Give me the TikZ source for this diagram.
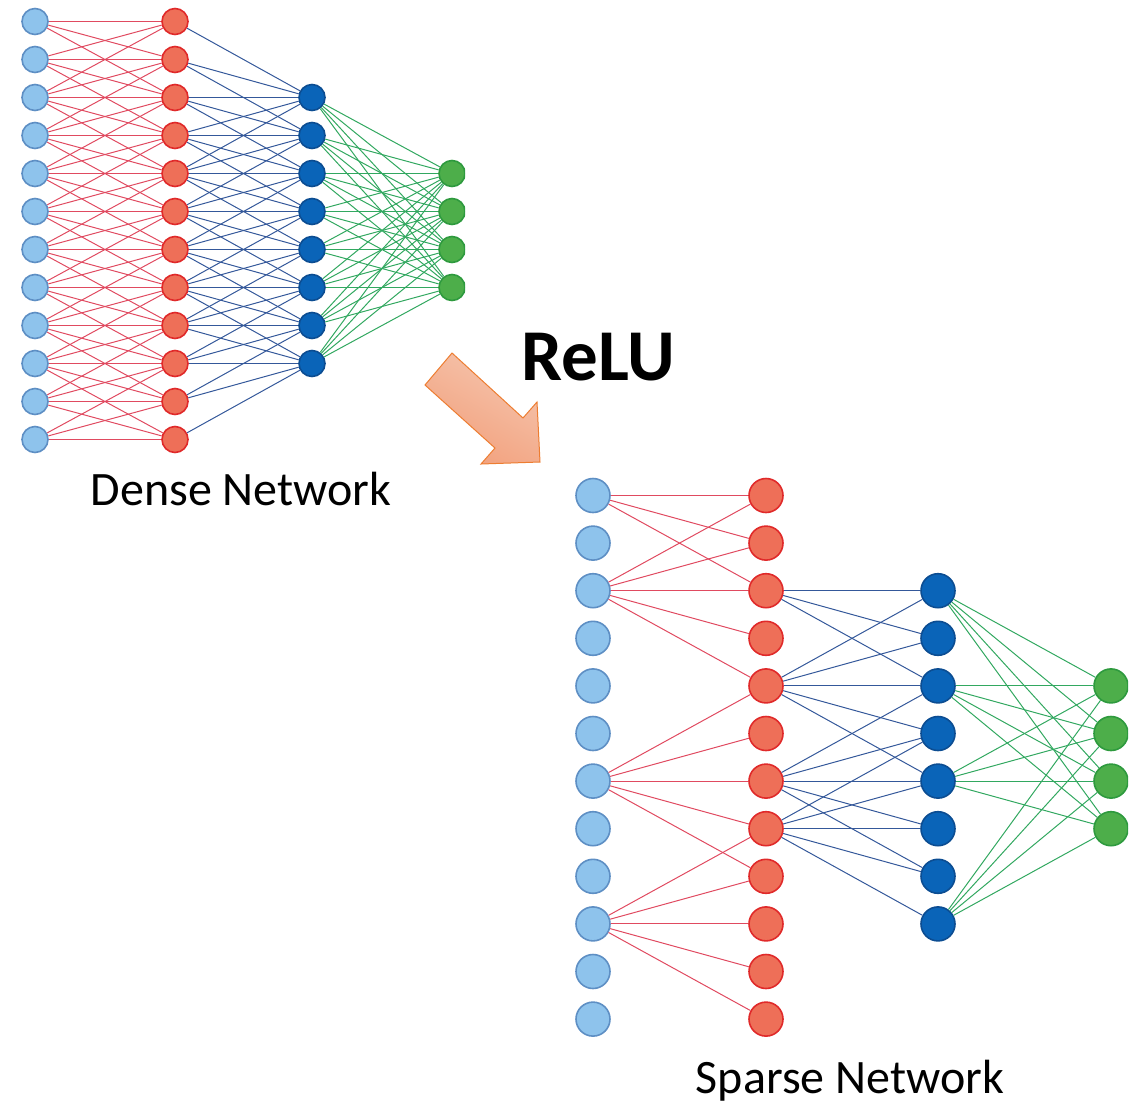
\documentclass[tikz,border=0pt]{standalone}
\usepackage{fontspec}
\setmainfont{Carlito}
\definecolor{inFill}{HTML}{8EC3EC}
\definecolor{inDraw}{HTML}{5E8FC4}
\definecolor{hAFill}{HTML}{EE6F58}
\definecolor{hADraw}{HTML}{E02A2A}
\definecolor{hBFill}{HTML}{0A64B8}
\definecolor{hBDraw}{HTML}{0C4D92}
\definecolor{outFill}{HTML}{4DAE4A}
\definecolor{outDraw}{HTML}{2E9A3E}
\definecolor{redLine}{HTML}{E04A60}
\definecolor{blueLine}{HTML}{34589A}
\definecolor{greenLine}{HTML}{32A860}
\definecolor{arrowA}{HTML}{F5C5AE}
\definecolor{arrowB}{HTML}{F2A07C}
\definecolor{arrowD}{HTML}{ED7D31}
\begin{document}
\begin{tikzpicture}[x=1pt,y=-1pt,
  neuron/.style={circle,inner sep=0pt,line width=1.6pt},
  dsize/.style={minimum size=26pt},
  ssize/.style={minimum size=34pt},
  inN/.style={neuron,fill=inFill,draw=inDraw},
  hAN/.style={neuron,fill=hAFill,draw=hADraw},
  hBN/.style={neuron,fill=hBFill,draw=hBDraw},
  outN/.style={neuron,fill=outFill,draw=outDraw},
  rl/.style={draw=redLine,line width=1pt},
  bl/.style={draw=blueLine,line width=1pt},
  gl/.style={draw=greenLine,line width=1pt},
  lbl/.style={font=\fontsize{48}{56}\selectfont,anchor=base,inner sep=0pt},
  relutxt/.style={font=\fontsize{73}{80}\selectfont\bfseries,anchor=base,inner sep=0pt}
]
\useasboundingbox (0,0) rectangle (1143,1104);

% ---------------- Dense network ----------------
\foreach \i in {1,...,12}{
  \pgfmathsetmacro\yy{21.5+38*(\i-1)}
  \node[inN,dsize] (d1-\i) at (35,\yy) {};
  \node[hAN,dsize] (d2-\i) at (175,\yy) {};
}
\foreach \i in {3,...,10}{
  \pgfmathsetmacro\yy{21.5+38*(\i-1)}
  \node[hBN,dsize] (d3-\i) at (312,\yy) {};
}
\begin{scope}
  \clip (400,0) rectangle (465,480);
  \foreach \i in {5,...,8}{
    \pgfmathsetmacro\yy{21.5+38*(\i-1)}
    \node[outN,dsize] (d4-\i) at (452,\yy) {};
  }
\end{scope}
\foreach \i in {1,...,12}{
  \pgfmathtruncatemacro\lo{max(1,\i-2)}
  \pgfmathtruncatemacro\hi{min(12,\i+2)}
  \foreach \j in {\lo,...,\hi}{ \draw[rl] (d1-\i) -- (d2-\j); }
  \pgfmathtruncatemacro\lob{max(3,\i-2)}
  \pgfmathtruncatemacro\hib{min(10,\i+2)}
  \ifnum\lob>\hib\else
    \foreach \j in {\lob,...,\hib}{ \draw[bl] (d2-\i) -- (d3-\j); }
  \fi
}
\foreach \i in {3,...,10}{
  \foreach \j in {5,...,8}{ \draw[gl] (d3-\i) -- (d4-\j); }
}

% ---------------- Sparse network ----------------
\foreach \i in {1,...,12}{
  \pgfmathsetmacro\yy{495.5+47.6*(\i-1)}
  \node[inN,ssize] (s1-\i) at (593,\yy) {};
  \node[hAN,ssize] (s2-\i) at (766,\yy) {};
}
\foreach \i in {3,...,10}{
  \pgfmathsetmacro\yy{495.5+47.6*(\i-1)}
  \node[hBN,ssize] (s3-\i) at (938,\yy) {};
}
\begin{scope}
  \clip (1050,600) rectangle (1128,900);
  \foreach \i in {5,...,8}{
    \pgfmathsetmacro\yy{495.5+47.6*(\i-1)}
    \node[outN,ssize] (s4-\i) at (1111,\yy) {};
  }
\end{scope}
\foreach \i in {1,3,7,10}{
  \pgfmathtruncatemacro\lo{max(1,\i-2)}
  \pgfmathtruncatemacro\hi{min(12,\i+2)}
  \foreach \j in {\lo,...,\hi}{ \draw[rl] (s1-\i) -- (s2-\j); }
}
\foreach \i in {3,5,7,8}{
  \pgfmathtruncatemacro\lo{max(3,\i-2)}
  \pgfmathtruncatemacro\hi{min(10,\i+2)}
  \foreach \j in {\lo,...,\hi}{ \draw[bl] (s2-\i) -- (s3-\j); }
}
\foreach \i in {3,5,7,10}{
  \foreach \j in {5,...,8}{ \draw[gl] (s3-\i) -- (s4-\j); }
}

% ---------------- Labels ----------------
\node[lbl] (denselabel) at (241,505) {Dense Network};
\node[lbl] (sparselabel) at (850,1093) {Sparse Network};
\node[relutxt] (relu) at (598,380) {ReLU};

% ---------------- Arrow ----------------
\shadedraw[draw=arrowD,line width=1pt,left color=arrowA,right color=arrowB,shading angle=-30,line join=miter]
  (425,385) -- (452,353) -- (523,418) -- (537,402) -- (540,462) -- (481,464) -- (495,448) -- cycle;
\end{tikzpicture}
\end{document}
